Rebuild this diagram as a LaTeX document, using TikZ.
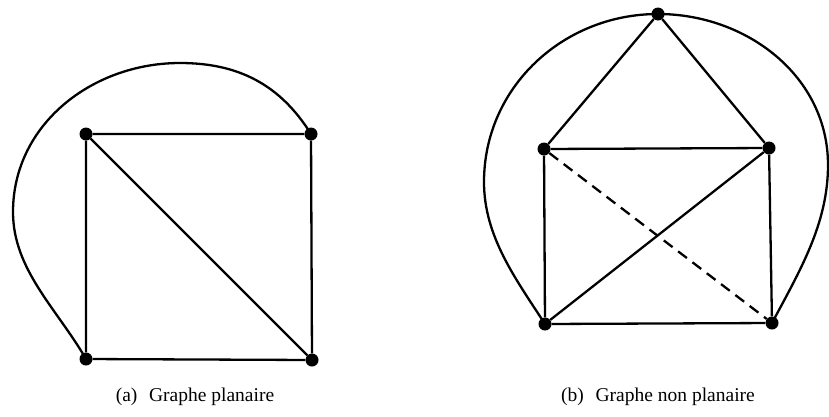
\documentclass[tikz,border=0pt]{standalone}
\usepackage{fontspec}
\setmainfont{Liberation Serif}
\begin{document}
\begin{tikzpicture}[x=1pt,y=-1pt,
  vtx/.style={circle,fill=black,inner sep=0pt,minimum size=13pt},
  edge/.style={line width=2.3pt},
  dashedge/.style={line width=2.3pt,dash pattern=on 11pt off 7pt},
  captxt/.style={font=\fontsize{19.5}{22}\selectfont,anchor=base}]
\useasboundingbox (0,0) rectangle (829,416);
% (a)
\node[vtx] (a1) at (86,134) {};
\node[vtx] (a2) at (311,134) {};
\node[vtx] (a3) at (86,359) {};
\node[vtx] (a4) at (312,360) {};
\coordinate (aw1) at (13,212);
\coordinate (aw2) at (180,63);
\draw[edge] (a1) -- (a2) -- (a4) -- (a3) -- (a1) -- (a4);
\draw[edge] (a3.center) to[out=120,in=270,looseness=0.9] (aw1) to[out=90,in=180] (aw2) to[out=0,in=122] (a2.center);
% (b)
\node[vtx] (b0) at (658,14) {};
\node[vtx] (b1) at (544,149) {};
\node[vtx] (b2) at (769,148) {};
\node[vtx] (b3) at (545,324) {};
\node[vtx] (b4) at (772,323) {};
\coordinate (bw1) at (484,182);
\coordinate (bw2) at (828,165);
\draw[edge] (b0) -- (b1) -- (b2) -- (b0);
\draw[edge] (b1) -- (b3) -- (b4) -- (b2) -- (b3);
\draw[dashedge] (b1) -- (b4);
\draw[edge] (b3.center) to[out=123,in=270,looseness=0.9] (bw1) to[out=90,in=180] (b0.center) to[out=0,in=90] (bw2) to[out=270,in=62,looseness=0.9] (b4.center);
% captions
\node[captxt] (ca) at (195,401) {(a)\hspace{0.6em}Graphe planaire};
\node[captxt] (cb) at (658,401) {(b)\hspace{0.6em}Graphe non planaire};
\end{tikzpicture}
\end{document}
